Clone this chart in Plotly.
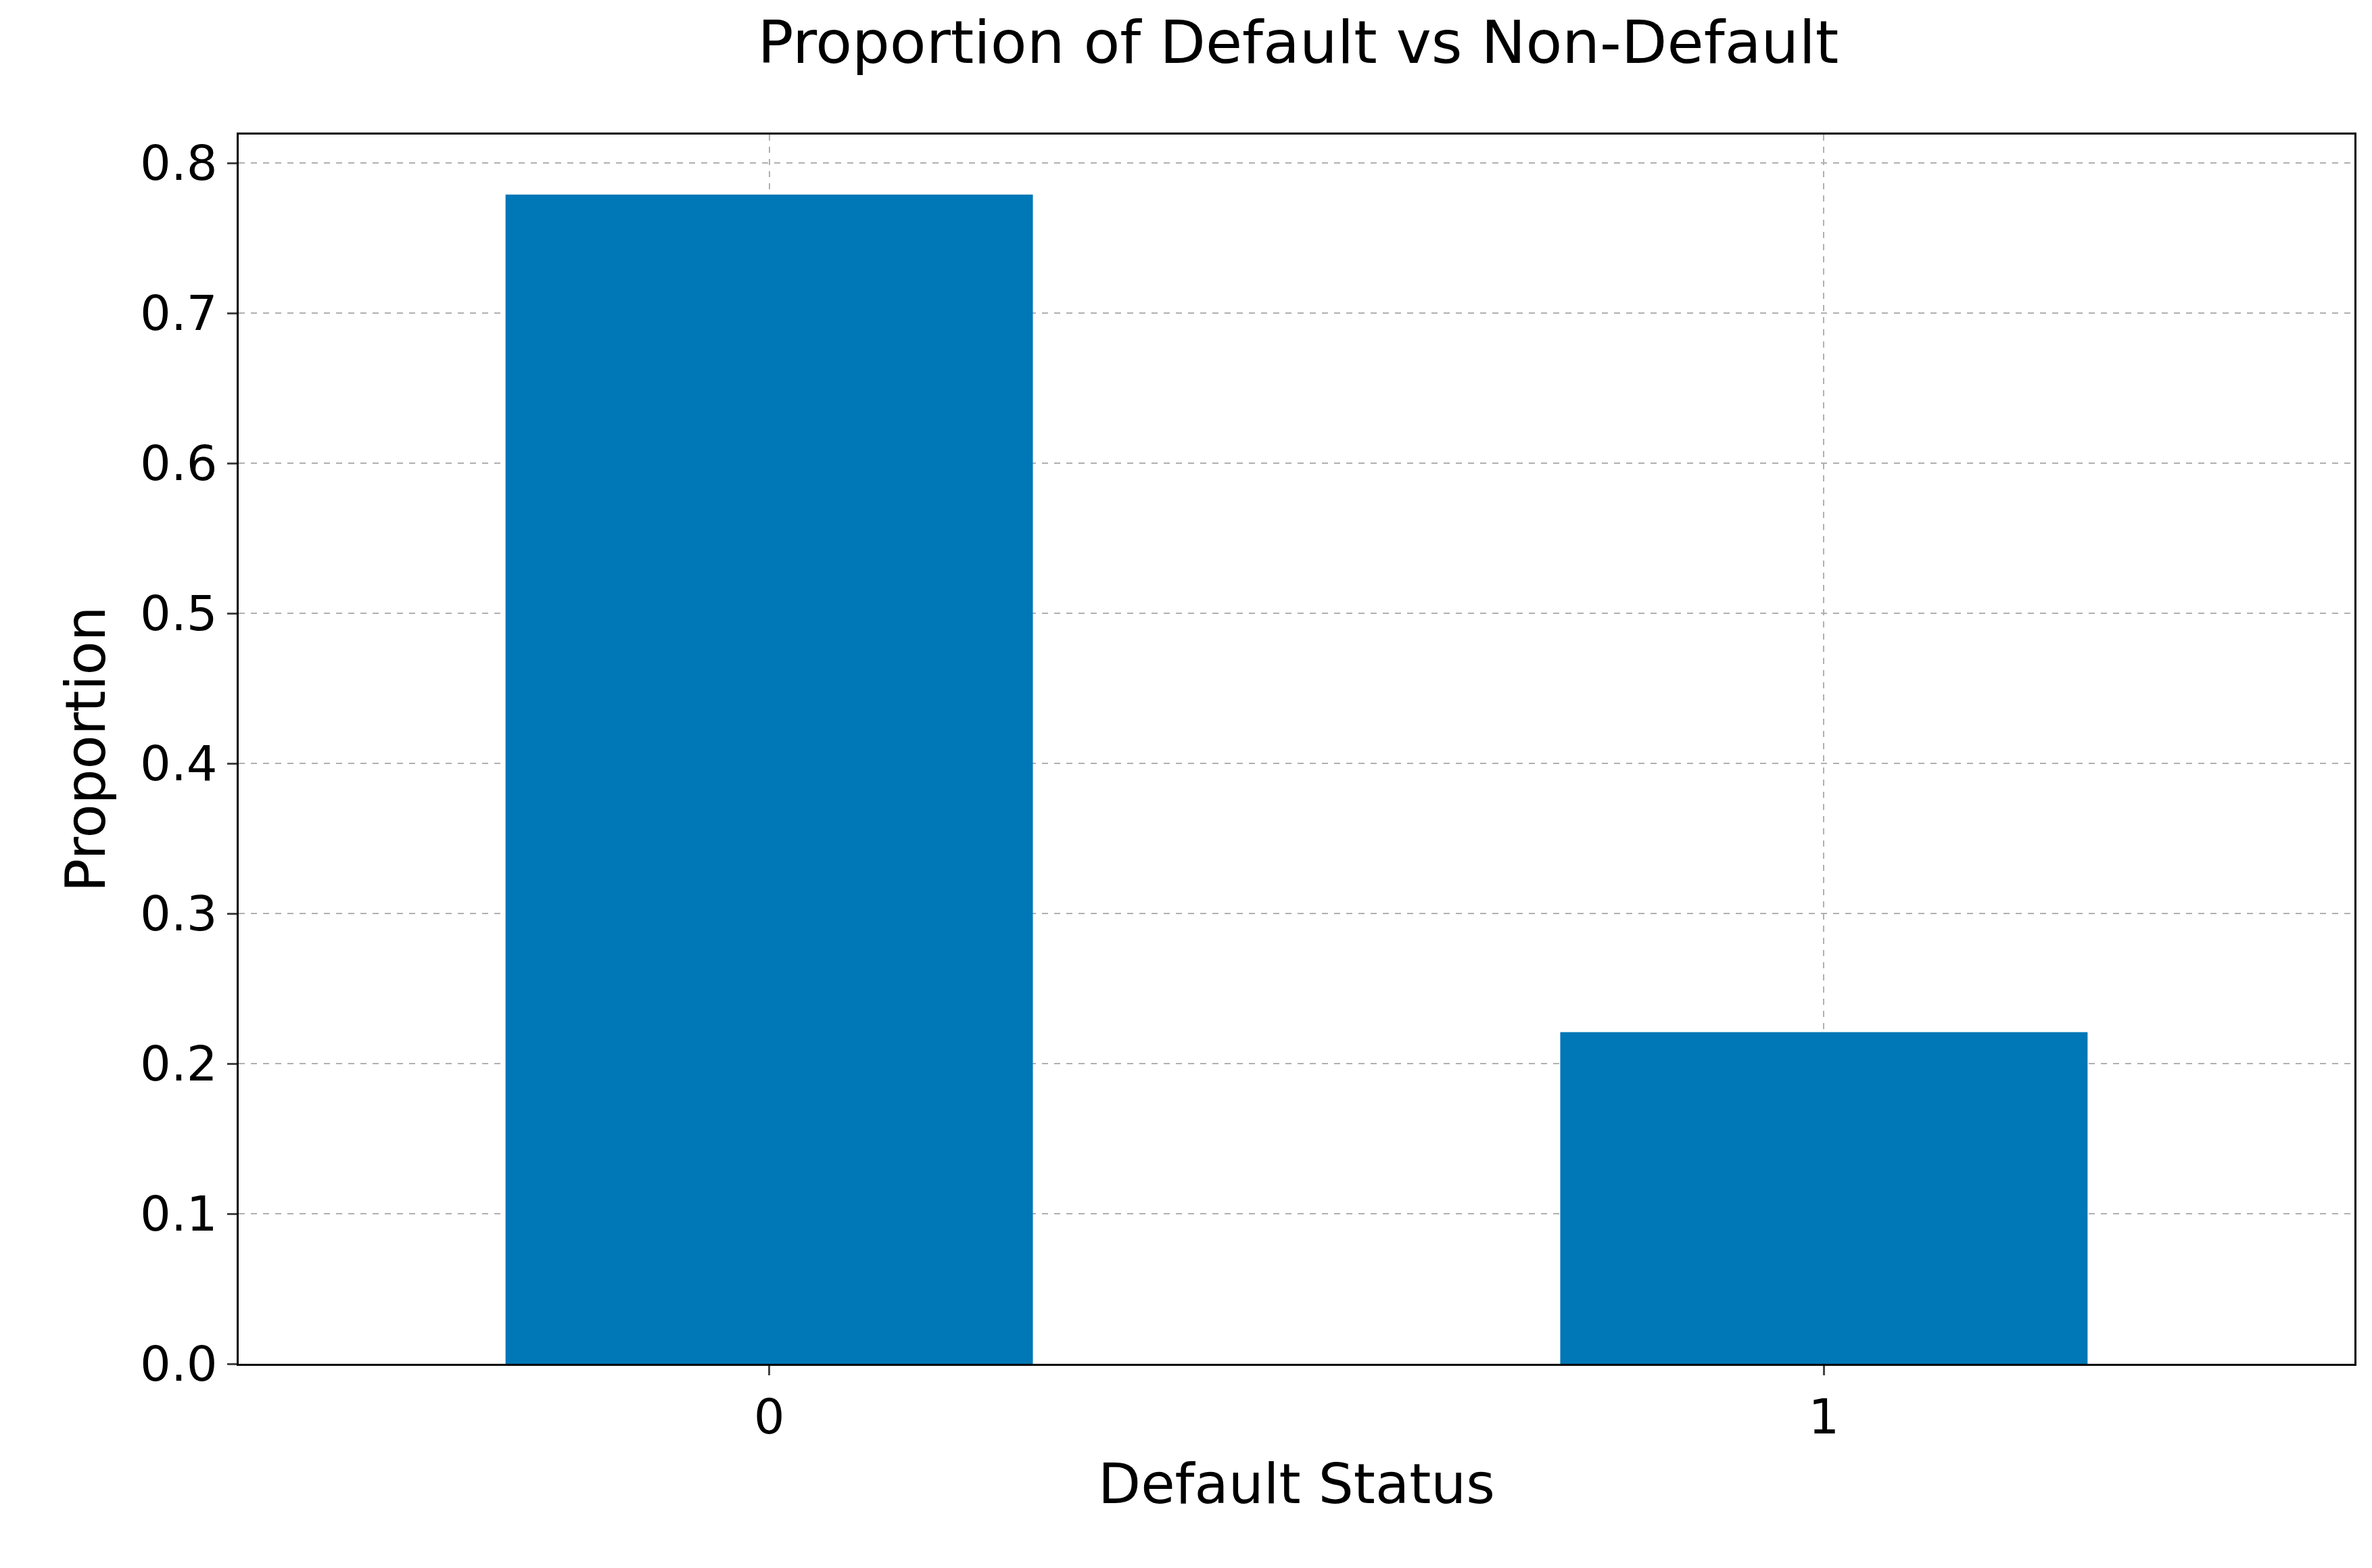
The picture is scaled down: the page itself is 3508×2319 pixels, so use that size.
import plotly.graph_objects as go

categories = ["0", "1"]
proportions = [0.779, 0.221]
y_ticks = [0.0, 0.1, 0.2, 0.3, 0.4, 0.5, 0.6, 0.7, 0.8]

fig = go.Figure(go.Bar(x=[0, 1], y=proportions, width=0.5, marker_color="#0077B6", marker_line_width=0))

fig.update_layout(
    width=3508, height=2319,
    paper_bgcolor="white", plot_bgcolor="white",
    margin=dict(l=345, r=34, t=191, b=310),
    font=dict(family="DejaVu Sans", size=72, color="black"),
    title=dict(text="Proportion of Default vs Non-Default", x=0.545, xanchor="center", y=0.99, yanchor="top", font=dict(size=88)),
    showlegend=False,
)
grid = dict(showgrid=True, gridcolor="#b0b0b0", griddash="dash", gridwidth=2,
            showline=True, linecolor="black", linewidth=3, mirror=True,
            ticks="outside", ticklen=14, tickwidth=3, zeroline=False)
fig.update_xaxes(range=[-0.503, 1.503], tickvals=[0, 1], ticktext=categories,
                 title=dict(text="Default Status", font=dict(size=82), standoff=30), **grid)
fig.update_yaxes(range=[0, 0.819], tickvals=y_ticks, ticktext=[f"{v:.1f}" for v in y_ticks],
                 title=dict(text="Proportion", font=dict(size=82), standoff=25), **grid)
fig.write_html("out.html")
